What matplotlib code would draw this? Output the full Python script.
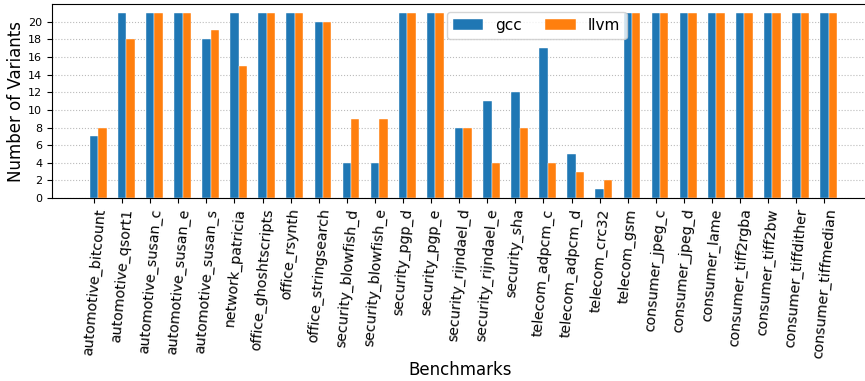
import matplotlib
matplotlib.use("Agg")
import matplotlib.pyplot as plt
import numpy as np

benchmarks = [
    "automotive_bitcount", "automotive_qsort1", "automotive_susan_c",
    "automotive_susan_e", "automotive_susan_s", "network_patricia",
    "office_ghoshtscripts", "office_rsynth", "office_stringsearch",
    "security_blowfish_d", "security_blowfish_e", "security_pgp_d",
    "security_pgp_e", "security_rijndael_d", "security_rijndael_e",
    "security_sha", "telecom_adpcm_c", "telecom_adpcm_d", "telecom_crc32",
    "telecom_gsm", "consumer_jpeg_c", "consumer_jpeg_d", "consumer_lame",
    "consumer_tiff2rgba", "consumer_tiff2bw", "consumer_tiffdither",
    "consumer_tiffmedian",
]
gcc = [7, 21, 21, 21, 18, 21, 21, 21, 20, 4, 4, 21, 21, 8, 11, 12, 17, 5, 1,
       21, 21, 21, 21, 21, 21, 21, 21]
llvm = [8, 18, 21, 21, 19, 15, 21, 21, 20, 9, 9, 21, 21, 8, 4, 8, 4, 3, 2,
        21, 21, 21, 21, 21, 21, 21, 21]

WIDTH = 0.3

fig = plt.figure(figsize=(8.65, 3.81), dpi=100)
ax = fig.add_axes([0.060, 0.480, 0.945, 0.5095])

x = np.arange(len(benchmarks))
ax.bar(x, gcc, WIDTH, color="#1f77b4", label="gcc", edgecolor="white", linewidth=0.3)
ax.bar(x + WIDTH, llvm, WIDTH, color="#ff7f0e", label="llvm", edgecolor="white", linewidth=0.3)

ax.set_axisbelow(True)
ax.yaxis.grid(True, linestyle=":", color="#bbbbbb", linewidth=0.8)
ax.set_yticks(np.arange(0, 21, 2))
ax.set_ylim(0, 22)
ax.set_xlim(-1.5, 27.6)
ax.set_xticks(x)
ax.set_xticklabels(benchmarks, rotation=85, fontsize=10.3)
ax.tick_params(axis="y", labelsize=8)
ax.set_ylabel("Number of Variants", fontsize=12, labelpad=2)
ax.set_xlabel("Benchmarks", fontsize=12, labelpad=1)
ax.legend(loc="upper left", bbox_to_anchor=(0.483, 0.96), ncol=2,
          borderaxespad=0, fontsize=11, columnspacing=1.5)

fig.savefig("out.png", dpi=100)
